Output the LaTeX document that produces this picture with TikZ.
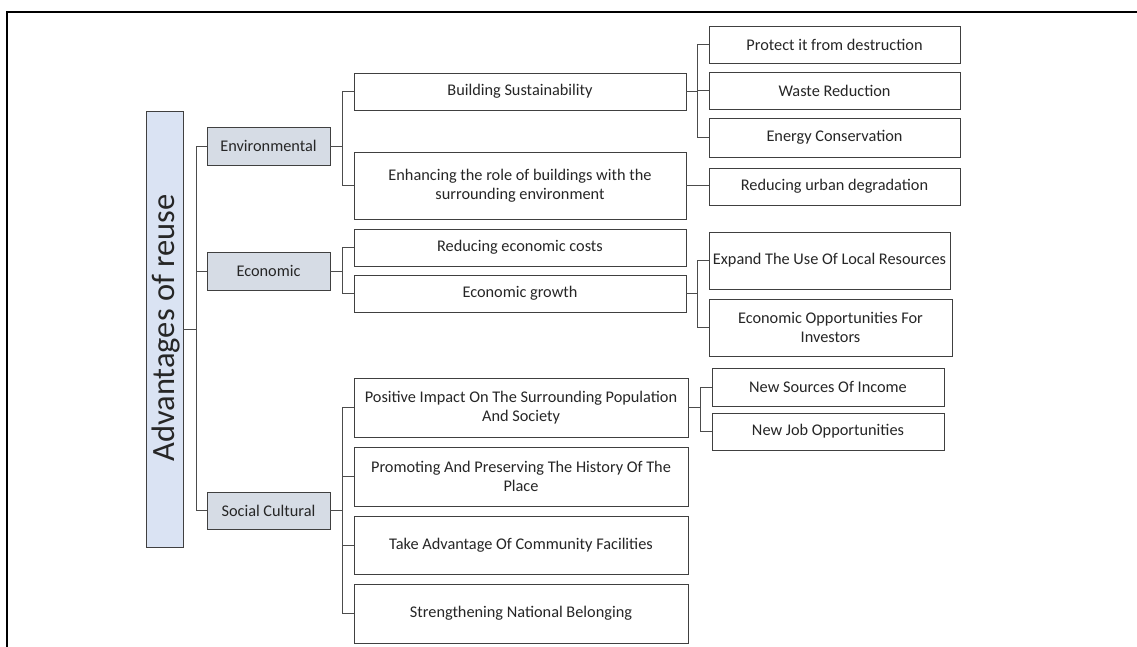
\documentclass[tikz,border=0pt]{standalone}
\usepackage{fontspec}
\setmainfont{Carlito}
\begin{document}
\begin{tikzpicture}[x=1pt,y=-1pt,
  box/.style={draw=black!75,line width=0.9pt,rectangle,inner sep=0pt,align=center,
    text=black!85,font=\fontsize{16.3}{19.5}\selectfont},
  cat/.style={box,fill=catfill,minimum width=123pt,minimum height=38pt},
  mid/.style={box,fill=white,minimum width=332pt},
  leaf/.style={box,fill=white,minimum width=251pt,minimum height=37pt},
  conn/.style={draw=black!70,line width=0.9pt}]
\definecolor{catfill}{HTML}{D6DCE5}
\definecolor{rootfill}{HTML}{DAE3F3}
\useasboundingbox (0,0) rectangle (1137,647);
\draw[line width=1.8pt] (7,647) -- (7,12) -- (1137,12);
% root
\node[box,fill=rootfill,minimum width=37pt,minimum height=436pt] (root) at (164.5,329) {};
\node[rotate=90,text=black!85,font=\fontsize{32.5}{36}\selectfont] (roott) at (166,328) {Advantages of reuse};
% categories
\node[cat] (env) at (268.5,146) {Environmental};
\node[cat] (eco) at (268.5,271) {Economic};
\node[cat,minimum height=37pt] (soc) at (268.5,510.5) {Social Cultural};
% second level
\node[mid,minimum height=37pt] (bs) at (520,91.5) {Building Sustainability};
\node[mid,minimum height=67pt] (enh) at (520,185.5) {Enhancing the role of buildings with the\\surrounding environment};
\node[mid,minimum height=37pt] (rec) at (520,247.5) {Reducing economic costs};
\node[mid,minimum height=37pt] (eg) at (520,293.5) {Economic growth};
\node[mid,minimum width=334pt,minimum height=59pt] (pos) at (521,407.5) {Positive Impact On The Surrounding Population\\And Society};
\node[mid,minimum width=334pt,minimum height=59pt] (prom) at (521,476.5) {Promoting And Preserving The History Of The\\Place};
\node[mid,minimum width=334pt,minimum height=58pt] (take) at (521,545) {Take Advantage Of Community Facilities};
\node[mid,minimum width=334pt,minimum height=59pt] (str) at (521,613.5) {Strengthening National Belonging};
% third level
\node[leaf] (prot) at (834.5,44.5) {Protect it from destruction};
\node[leaf] (waste) at (834.5,90.5) {Waste Reduction};
\node[leaf,minimum height=39pt] (energy) at (834.5,137.5) {Energy Conservation};
\node[leaf] (urban) at (834.5,186.5) {Reducing urban degradation};
\node[leaf,minimum width=241pt,minimum height=57pt] (expand) at (829.5,260.5) {Expand The Use Of Local Resources};
\node[leaf,minimum width=243pt,minimum height=57pt] (eop) at (830.5,327.5) {Economic Opportunities For\\Investors};
\node[leaf,minimum width=232pt,minimum height=38pt] (nsi) at (828,387) {New Sources Of Income};
\node[leaf,minimum width=232pt,minimum height=37pt] (njo) at (828,431.5) {New Job Opportunities};
% connectors
\foreach \c in {env,eco,soc} \draw[conn] (root.east) -- ++(13,0) |- (\c.west);
\foreach \c in {bs,enh} \draw[conn] (env.east) -- ++(12,0) |- (\c.west);
\foreach \c in {rec,eg} \draw[conn] (eco.east) -- ++(12,0) |- (\c.west);
\foreach \c in {pos,prom,take,str} \draw[conn] (soc.east) -- ++(12,0) |- (\c.west);
\foreach \c in {prot,waste,energy} \draw[conn] (bs.east) -- ++(11,0) |- (\c.west);
\draw[conn] (enh.east) -- (urban.west |- enh.east);
\foreach \c in {expand,eop} \draw[conn] (eg.east) -- ++(11,0) |- (\c.west);
\foreach \c in {nsi,njo} \draw[conn] (pos.east) -- ++(12,0) |- (\c.west);
\end{tikzpicture}
\end{document}
